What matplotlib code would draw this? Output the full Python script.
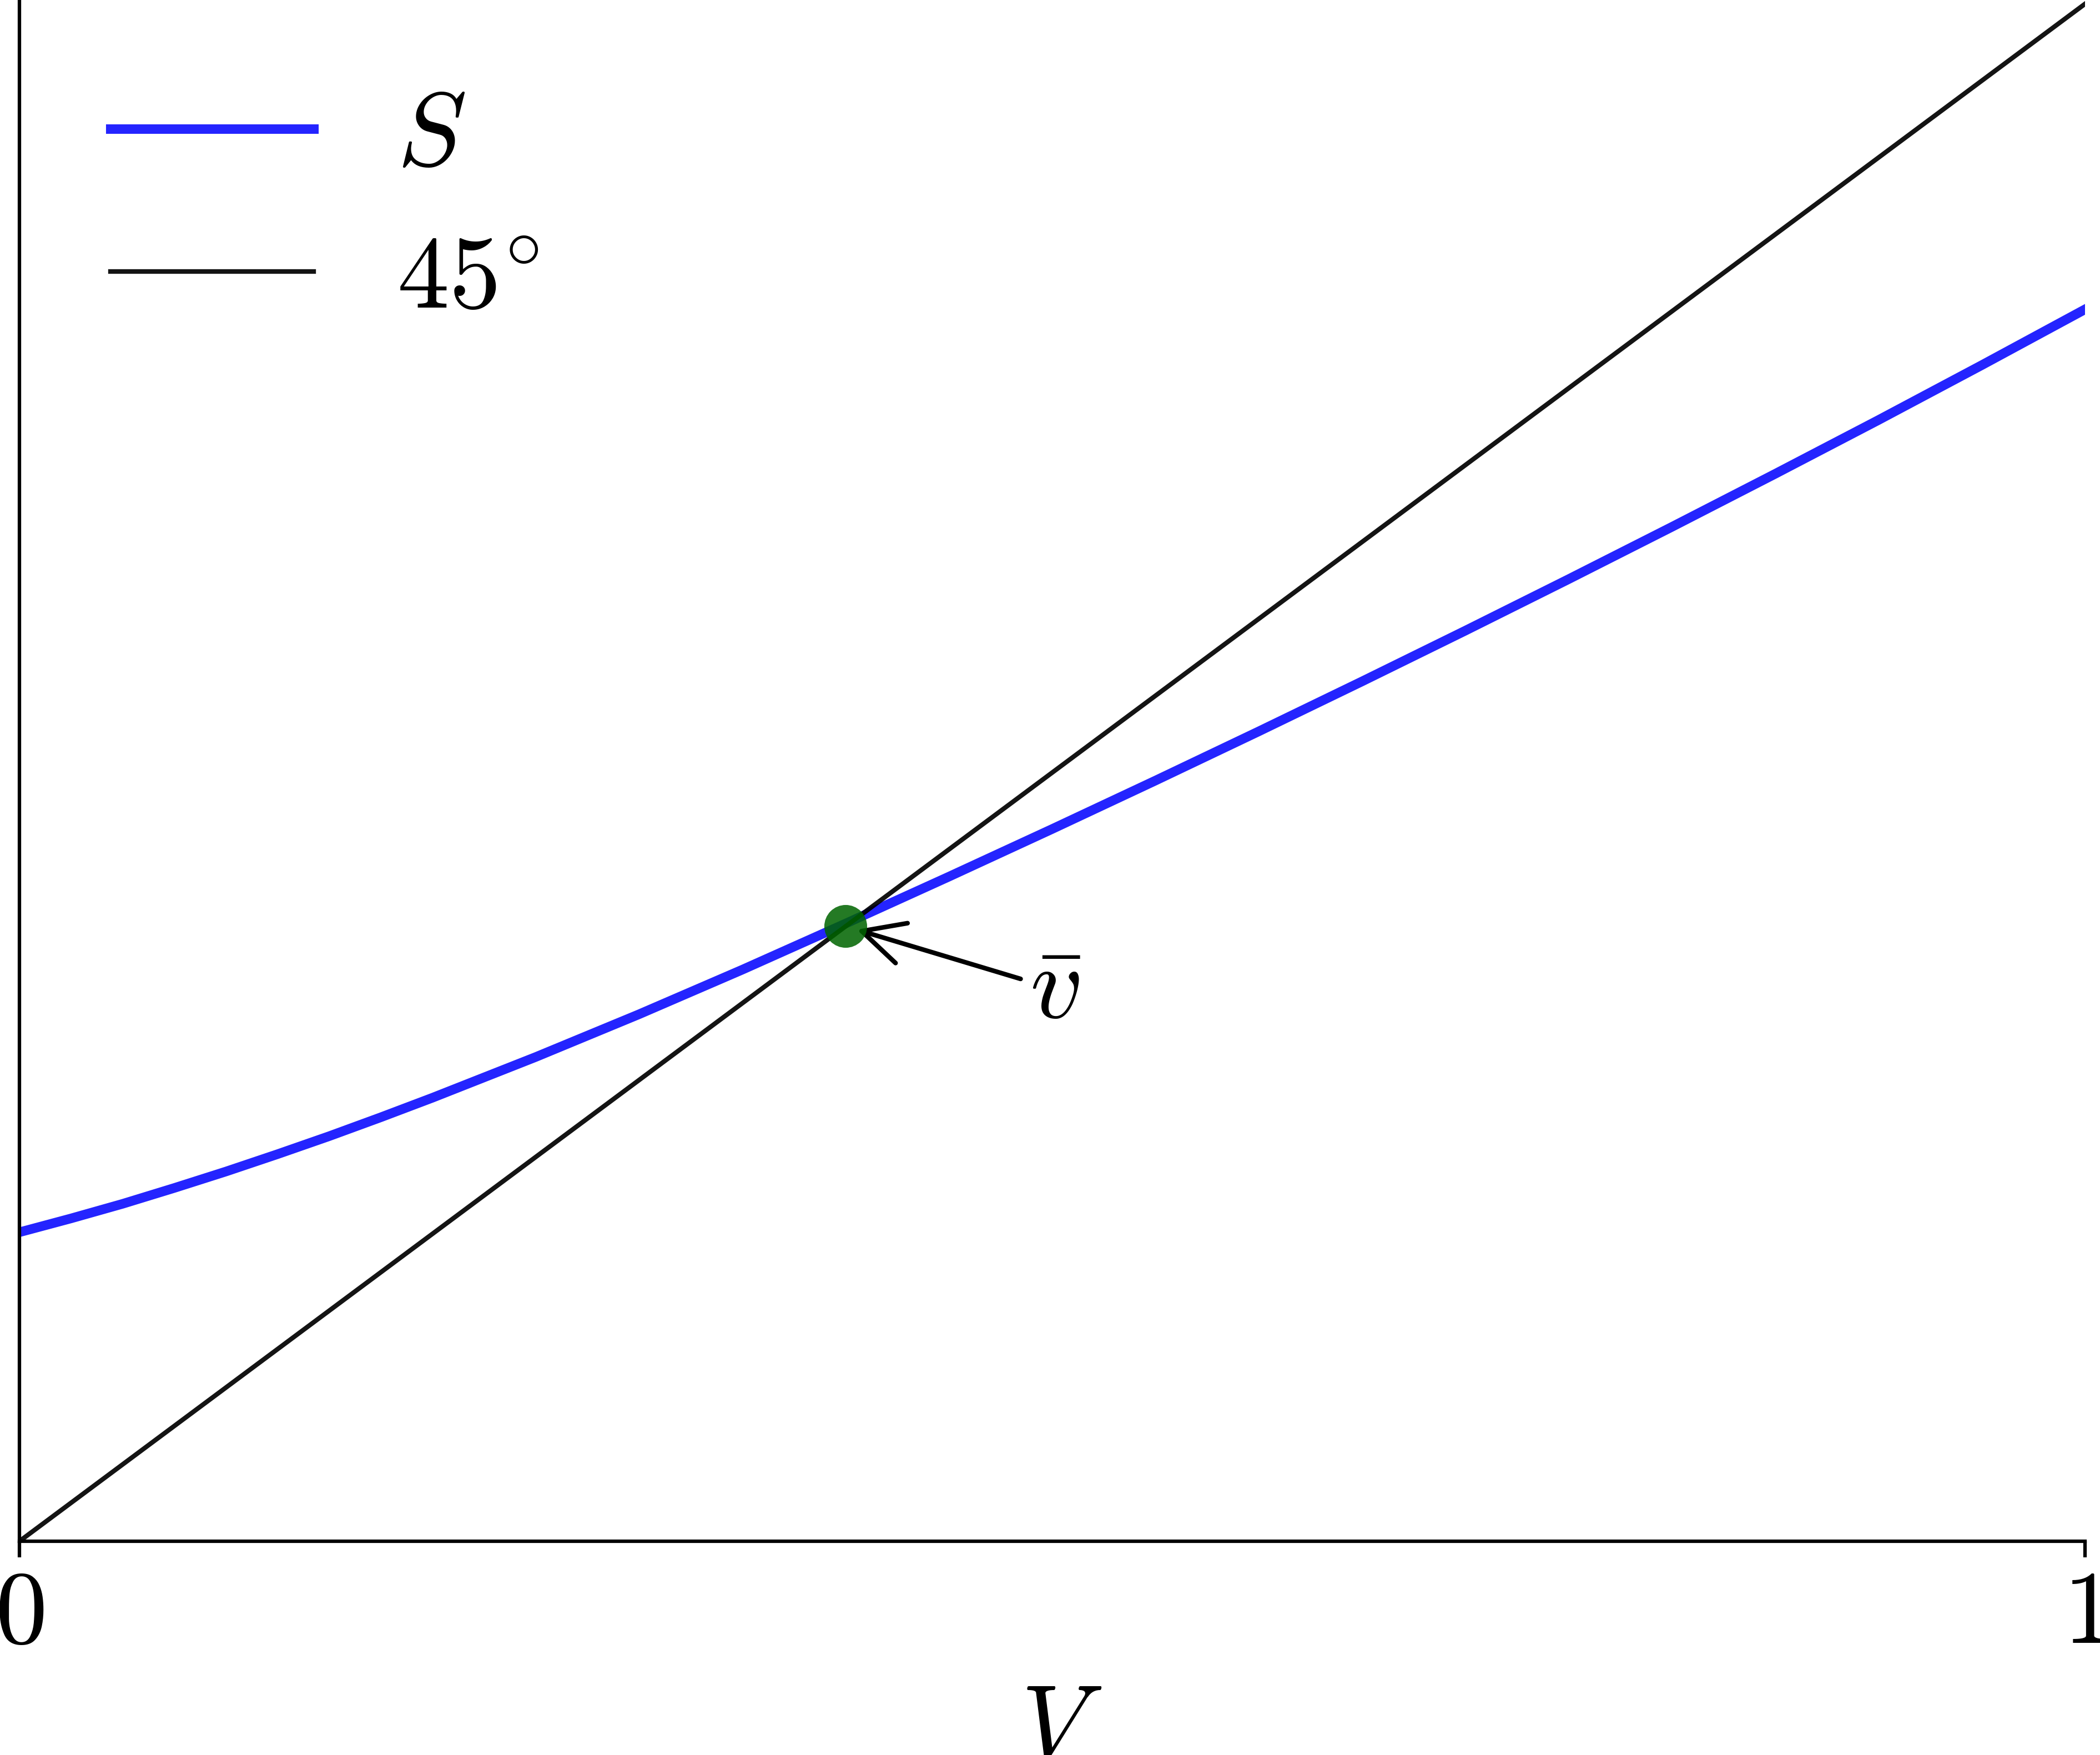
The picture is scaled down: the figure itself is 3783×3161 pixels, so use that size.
import matplotlib
matplotlib.use("Agg")
import matplotlib.pyplot as plt

plt.rcParams['mathtext.fontset'] = 'cm'
plt.rcParams['font.family'] = ['DejaVu Serif']

# ---- data ----
v_grid = [0.000, 0.025, 0.050, 0.075, 0.100, 0.125, 0.150, 0.175, 0.200,
          0.250, 0.300, 0.350, 0.400, 0.450, 0.500, 0.550, 0.600, 0.650,
          0.700, 0.750, 0.800, 0.850, 0.900, 0.950, 1.000]
S_vals = [0.2010, 0.2100, 0.2195, 0.2298, 0.2405, 0.2518, 0.2635, 0.2758,
          0.2885, 0.3150, 0.3428, 0.3718, 0.4018, 0.4323, 0.4633, 0.4948,
          0.5268, 0.5593, 0.5923, 0.6258, 0.6598, 0.6943, 0.7293, 0.7650,
          0.8013]
v_bar = 0.40
x_ticks = [0, 1]
x_ticklabels = ['$0$', '$1$']
legend_labels = ['$S$', r'$45^{\circ}$']
annot_label = r'$\bar{v}$'
annot_text_pos = (0.5015, 0.359)
x_label = '$V$'

W, H, DPI = 3783, 3161, 300
fs = 45

fig = plt.figure(figsize=(W / DPI, H / DPI), dpi=DPI)
ax = fig.add_axes([35 / W, 385 / H, (3756 - 35) / W, 2776 / H])

ax.plot(v_grid, S_vals, color='blue', alpha=0.86, lw=4.1, label=legend_labels[0])
ax.plot(v_grid, v_grid, color='k', alpha=0.92, lw=2.0, label=legend_labels[1])
ax.plot([v_bar], [v_bar], 'o', color='darkgreen', alpha=0.86, markersize=18.5,
        markeredgewidth=0, zorder=5)

ax.annotate(annot_label, xy=(v_bar, v_bar), xytext=annot_text_pos,
            ha='center', va='center', fontsize=fs,
            arrowprops=dict(arrowstyle='->', lw=2.0, color='k', shrinkB=5))

ax.set_xlim(0, 1)
ax.set_ylim(0, 2776 / 2769)
for s in ['top', 'right']:
    ax.spines[s].set_visible(False)
for s in ['left', 'bottom']:
    ax.spines[s].set_linewidth(1.5)
ax.set_yticks([])
ax.set_xticks(x_ticks)
ax.set_xticklabels(x_ticklabels)
ax.tick_params(axis='x', length=7, width=1.5, pad=2.5, labelsize=fs)
ax.set_xlabel(x_label, fontsize=fs, labelpad=6)
ax.xaxis.label.set_x(0.5045)

ax.legend(loc='upper left', frameon=False, fontsize=fs, labelspacing=0.4,
          handlelength=1.95, bbox_to_anchor=(-0.0013, 1.005))

fig.savefig('out.png', dpi=DPI)
